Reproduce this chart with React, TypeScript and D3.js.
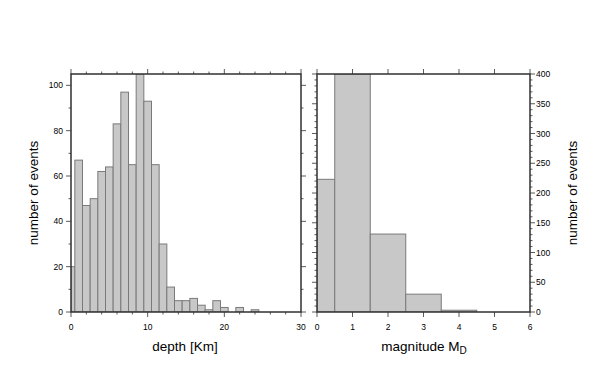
import React from "react";
import * as d3 from "d3";

const depthBins = [0, 1, 2, 3, 4, 5, 6, 7, 8, 9, 10, 11, 12, 13, 14, 15, 16, 17, 18, 19, 20, 21, 22, 23, 24];
const depthCounts = [20, 67, 47, 50, 62, 64, 83, 97, 65, 105, 93, 65, 30, 11, 5, 5, 6, 3, 1, 5, 2, 0, 2, 0, 1];
const magBins = [0, 1, 2, 3, 4, 5];
const magCounts = [223, 400, 131, 30, 3, 0];
const depthTicks = [0, 10, 20, 30];
const depthLeftTicks = [0, 20, 40, 60, 80, 100];
const magTicks = [0, 1, 2, 3, 4, 5, 6];
const magRightTicks = [0, 50, 100, 150, 200, 250, 300, 350, 400];

const FONT = "'Liberation Sans', Arial, Helvetica, sans-serif";
const FRAME = "#303030";
const TOP = 74;
const BOTTOM = 312;
const MAJ = 5;
const MIN = 2.5;

function Panel({ x0, x1, xDomain, yDomain, bins, counts, xMajor, xMinorStep, yMajorStep, yMinorStep, labelYSide, yTickValues }: any) {
  const x = d3.scaleLinear().domain(xDomain).range([x0, x1]);
  const y = d3.scaleLinear().domain(yDomain).range([BOTTOM, TOP]);
  const clipId = `clip${x0}`;
  const xMinor = d3.range(xDomain[0], xDomain[1] + 1e-9, xMinorStep);
  const yMinor = d3.range(yDomain[0], yDomain[1] + 1e-9, yMinorStep);
  const isMajorY = (v: number) => Math.abs(v / yMajorStep - Math.round(v / yMajorStep)) < 1e-6;
  const isMajorX = (v: number) => xMajor.some((m: number) => Math.abs(m - v) < 1e-6);
  return (
    <g>
      <defs>
        <clipPath id={clipId}>
          <rect x={x0} y={TOP} width={x1 - x0} height={BOTTOM - TOP} />
        </clipPath>
      </defs>
      <g clipPath={`url(#${clipId})`}>
        {bins.map((c: number, i: number) => {
          const a = Math.max(xDomain[0], c - 0.5);
          const b = c + 0.5;
          const h = counts[i];
          if (h <= 0) return null;
          return (
            <rect key={i} x={x(a)} y={y(h)} width={x(b) - x(a)} height={y(0) - y(h)}
              fill="#c8c8c8" stroke="#7a7a7a" strokeWidth={1} />
          );
        })}
      </g>
      {xMinor.map((v: number, i: number) => {
        const len = isMajorX(v) ? MAJ : MIN;
        return (
          <g key={"xt" + i} stroke={FRAME} strokeWidth={0.8}>
            <line x1={x(v)} x2={x(v)} y1={BOTTOM} y2={BOTTOM + len} />
            <line x1={x(v)} x2={x(v)} y1={TOP} y2={TOP - len} />
          </g>
        );
      })}
      {yMinor.map((v: number, i: number) => {
        const len = isMajorY(v) ? MAJ : MIN;
        return (
          <g key={"yt" + i} stroke={FRAME} strokeWidth={0.8}>
            <line x1={x0} x2={x0 - len} y1={y(v)} y2={y(v)} />
            <line x1={x1} x2={x1 + len} y1={y(v)} y2={y(v)} />
          </g>
        );
      })}
      <rect x={x0} y={TOP} width={x1 - x0} height={BOTTOM - TOP} fill="none" stroke={FRAME} strokeWidth={1.5} />
      {xMajor.map((v: number, i: number) => (
        <text key={"xl" + i} x={x(v)} y={330} fontSize={8.5} textAnchor="middle" fontFamily={FONT} fill="#000">{v}</text>
      ))}
      {yTickValues.map((v: number, i: number) => (
        <text key={"yl" + i} x={labelYSide === "left" ? x0 - 8 : x1 + 6} y={y(v) + 3} fontSize={8.5}
          textAnchor={labelYSide === "left" ? "end" : "start"} fontFamily={FONT} fill="#000">{v}</text>
      ))}
    </g>
  );
}

export default function App() {
  return (
    <svg width={602} height={383} style={{ position: "absolute", left: 0, top: 0, background: "#fff" }}>
      <Panel x0={71} x1={301} xDomain={[0, 30]} yDomain={[0, 105]} bins={depthBins} counts={depthCounts}
        xMajor={depthTicks} xMinorStep={2} yMajorStep={20} yMinorStep={10} labelYSide="left" yTickValues={depthLeftTicks} />
      <Panel x0={317} x1={530} xDomain={[0, 6]} yDomain={[0, 400]} bins={magBins} counts={magCounts}
        xMajor={magTicks} xMinorStep={1} yMajorStep={50} yMinorStep={10} labelYSide="right" yTickValues={magRightTicks} />
      <text x={185} y={350.5} fontSize={13.5} textAnchor="middle" fontFamily={FONT}>depth [Km]</text>
      <text x={424} y={350.5} fontSize={13.5} textAnchor="middle" fontFamily={FONT}>
        magnitude M<tspan fontSize={10} dy={3}>D</tspan>
      </text>
      <text transform="translate(37.5,193) rotate(-90)" fontSize={13.5} textAnchor="middle" fontFamily={FONT}>number of events</text>
      <text transform="translate(576.5,193) rotate(-90)" fontSize={13.5} textAnchor="middle" fontFamily={FONT}>number of events</text>
    </svg>
  );
}
